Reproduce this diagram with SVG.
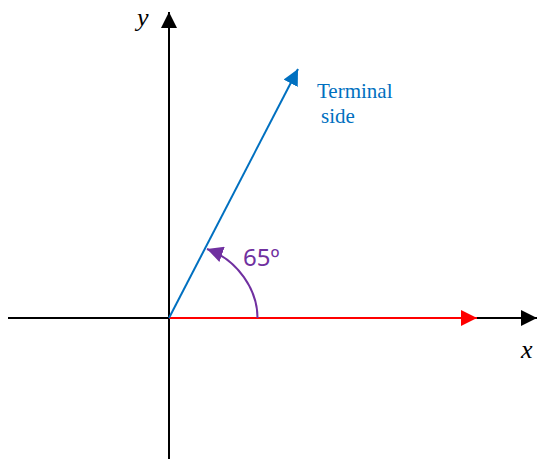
<svg xmlns="http://www.w3.org/2000/svg" width="537" height="459" viewBox="0 0 537 459">
<style>
.ax{stroke:#000;stroke-width:2;fill:none}
.lbl{font-family:"Liberation Serif",serif;font-style:italic;font-size:26px;fill:#000}
.term{font-family:"Liberation Serif",serif;font-size:21px;fill:#0070C0}
.ang{font-family:"Noto Sans","DejaVu Sans",sans-serif;font-size:24px;fill:#7030A0}
</style>
<defs>
<marker id="ab" viewBox="0 0 10 10" refX="10" refY="5" markerWidth="16" markerHeight="16" markerUnits="userSpaceOnUse" orient="auto"><path d="M0,0L10,5L0,10z" fill="#000"/></marker>
<marker id="ar" viewBox="0 0 10 10" refX="10" refY="5" markerWidth="16" markerHeight="16" markerUnits="userSpaceOnUse" orient="auto"><path d="M0,0L10,5L0,10z" fill="#FF0000"/></marker>
<marker id="abl" viewBox="0 0 10 10" refX="10" refY="5" markerWidth="16" markerHeight="16" markerUnits="userSpaceOnUse" orient="auto"><path d="M0,0L10,5L0,10z" fill="#0070C0"/></marker>
<marker id="ap" viewBox="0 0 10 10" refX="10" refY="5" markerWidth="16" markerHeight="16" markerUnits="userSpaceOnUse" orient="auto"><path d="M0,0L10,5L0,10z" fill="#7030A0"/></marker>
</defs>
<g id="connectors">
<line id="x-axis" class="ax" x1="8" y1="318" x2="537" y2="318" marker-end="url(#ab)"/>
<line id="y-axis" class="ax" x1="169" y1="459" x2="169" y2="12" marker-end="url(#ab)"/>
<line id="initial-side" x1="169" y1="318" x2="477" y2="318" stroke="#FF0000" stroke-width="2" marker-end="url(#ar)"/>
<line id="terminal-side" x1="169" y1="318" x2="298" y2="69" stroke="#0070C0" stroke-width="2" marker-end="url(#abl)"/>
<path id="angle-arc" d="M257.5 318 C257.5 290 238 260 207 249" stroke="#7030A0" stroke-width="2" fill="none" marker-end="url(#ap)"/>
</g>
<g id="labels">
<text class="lbl" x="137" y="26">y</text>
<text class="lbl" x="521" y="358">x</text>
<text class="term" x="317" y="98">Terminal</text>
<text class="term" x="321" y="123">side</text>
<text class="ang" x="243" y="266">65º</text>
</g>
</svg>
